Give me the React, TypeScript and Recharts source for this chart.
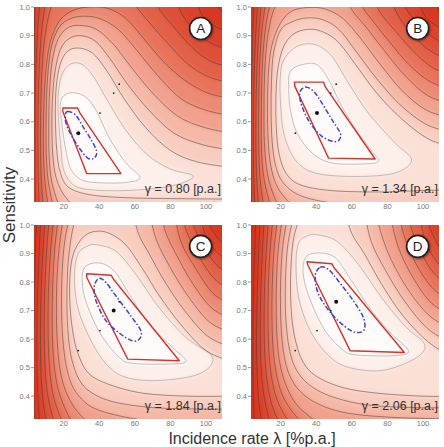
import React from 'react'
import { ScatterChart, Scatter, XAxis, YAxis, CartesianGrid } from 'recharts'

type Pt = [number, number]
type XY = { x: number; y: number }

const xTicks = [20, 40, 60, 80, 100]
const yTicks = [0.4, 0.5, 0.6, 0.7, 0.8, 0.9, 1.0]
const panelLetters = ['A', 'B', 'C', 'D']
const gammaLabels = ['γ = 0.80 [p.a.]', 'γ = 1.34 [p.a.]', 'γ = 1.84 [p.a.]', 'γ = 2.06 [p.a.]']

// maximum-likelihood estimate (λ, sensitivity) of each panel
const optima: Pt[] = [[28.2, 0.56], [40.4, 0.63], [48.1, 0.7], [51.2, 0.731]]

const hullA: Pt[] = [[19.5, 0.648], [27.8, 0.648], [29, 0.632], [52.2, 0.419], [32.9, 0.419], [19.5, 0.636]]
const hullB: Pt[] = [[27.7, 0.738], [44.1, 0.738], [45, 0.722], [73.1, 0.47], [46.9, 0.473], [27.9, 0.724]]
const hullC: Pt[] = [[32.9, 0.829], [46.6, 0.824], [48, 0.81], [85, 0.524], [56, 0.53], [32.9, 0.817]]
const hullD: Pt[] = [[34.8, 0.871], [48.8, 0.864], [50, 0.85], [89.5, 0.553], [59.1, 0.559], [35.3, 0.859]]

const ellipseA: Pt[] = [[22.2, 0.636], [26.6, 0.624], [30.7, 0.584], [35.4, 0.537], [38.5, 0.497], [37.2, 0.473], [33.5, 0.473], [28.8, 0.508], [24.1, 0.555], [21.3, 0.595], [20.9, 0.624]]
const ellipseB: Pt[] = [[33.8, 0.721], [38.5, 0.706], [43.2, 0.665], [48.8, 0.607], [53.5, 0.56], [52.9, 0.537], [49.7, 0.531], [43.2, 0.549], [36.6, 0.595], [32, 0.653], [30.7, 0.7]]
const ellipseC: Pt[] = [[40, 0.813], [43.8, 0.798], [49.4, 0.751], [57.8, 0.681], [63.4, 0.629], [62.5, 0.6], [58.8, 0.594], [52.2, 0.617], [43.8, 0.664], [38.2, 0.734], [37.2, 0.786]]
const ellipseD: Pt[] = [[42.2, 0.852], [46.9, 0.844], [52.5, 0.803], [60.9, 0.734], [66.5, 0.676], [67.1, 0.635], [63.7, 0.623], [58.1, 0.635], [48.8, 0.687], [41.3, 0.757], [39.4, 0.821]]

// likelihood contours, innermost first; each contour is a list of smooth pieces
// joined by straight runs that lie outside the plotting window
const contoursA: Pt[][][] = [
  [[[18.3, 0.67], [23, 0.7], [31.5, 0.69], [38, 0.642], [45.7, 0.543], [55, 0.456], [63, 0.405], [55, 0.388], [40, 0.387], [30, 0.397], [24, 0.435], [21.2, 0.5], [19, 0.59]]],
  [[[16.8, 0.68], [18.3, 0.75], [21.5, 0.79], [26, 0.805], [31, 0.797], [37, 0.755], [45, 0.67], [55, 0.57], [67, 0.485], [80, 0.435], [93, 0.41], [82, 0.378], [62, 0.362], [42, 0.36], [29, 0.369], [23, 0.395], [19.6, 0.44], [18.6, 0.5], [17.3, 0.59]]],
  [[[115, 0.44], [95, 0.46], [80, 0.5], [66, 0.58], [54, 0.68], [44, 0.78], [36, 0.84], [28, 0.857], [22, 0.845], [18, 0.8], [15.8, 0.72], [15.3, 0.62], [16.1, 0.5], [18.2, 0.42], [23, 0.37], [35, 0.345], [55, 0.335], [80, 0.332], [115, 0.33]]],
  [[[115, 0.5], [98, 0.52], [82, 0.56], [68, 0.64], [56, 0.73], [46, 0.82], [38, 0.88], [30, 0.9], [23, 0.89], [18, 0.85], [15, 0.77], [13.6, 0.67], [13.4, 0.57], [13.9, 0.48], [15.5, 0.41], [19, 0.355], [24, 0.315], [30, 0.27]], [[115, 0.27]]],
  [[[115, 0.56], [99, 0.58], [84, 0.62], [70, 0.7], [58, 0.79], [48, 0.87], [39, 0.92], [31, 0.935], [23, 0.93], [17, 0.89], [13.5, 0.81], [12, 0.7], [11.6, 0.58], [11.8, 0.48], [13, 0.4], [15.5, 0.34], [19, 0.28]], [[115, 0.28]]],
  [[[115, 0.62], [100, 0.64], [86, 0.68], [73, 0.76], [61, 0.85], [51, 0.92], [41, 0.958], [32, 0.968], [24, 0.96], [17.5, 0.93], [13, 0.86], [11, 0.76], [10.2, 0.64], [10.1, 0.52], [10.8, 0.42], [12.5, 0.35], [15, 0.28]], [[115, 0.28]]],
  [[[115, 0.68], [101, 0.7], [88, 0.745], [76, 0.81], [65, 0.89], [55, 0.96], [45, 0.995], [35, 1.0], [26, 0.99], [18, 0.955], [12.5, 0.88], [10, 0.78], [8.9, 0.66], [8.6, 0.54], [8.9, 0.44], [10, 0.36], [12, 0.28]], [[115, 0.28]]],
  [[[115, 0.735], [102, 0.755], [90, 0.8], [79, 0.87], [69, 0.94], [61, 1.0], [57, 1.05]], [[18, 1.05], [13, 1.0], [9.5, 0.9], [7.8, 0.78], [7.1, 0.64], [7, 0.5], [7.4, 0.4], [8.3, 0.32], [9.5, 0.26]], [[115, 0.26]]],
  [[[115, 0.79], [103, 0.81], [92, 0.86], [82, 0.93], [74, 0.99], [70, 1.05]], [[11, 1.05], [8, 0.94], [6.3, 0.8], [5.6, 0.65], [5.5, 0.5], [5.8, 0.38], [6.6, 0.26]], [[115, 0.26]]],
  [[[115, 0.85], [104, 0.87], [95, 0.91], [87, 0.97], [82, 1.05]], [[7, 1.05], [5, 0.88], [4.1, 0.7], [3.9, 0.5], [4.1, 0.35], [4.5, 0.26]], [[115, 0.26]]],
  [[[115, 0.91], [106, 0.93], [98, 0.97], [93, 1.05]], [[3.8, 1.05], [3.2, 0.7], [3.0, 0.26]], [[115, 0.26]]],
  [[[115, 0.975], [108, 0.99], [104, 1.05]], [[2.5, 1.05], [2.5, 0.26]], [[115, 0.26]]],
]

const contoursB: Pt[][][] = [
  [[[25.4, 0.776], [32, 0.799], [40.4, 0.799], [46.9, 0.747], [54.4, 0.653], [63.7, 0.56], [72.1, 0.491], [75, 0.462], [67.5, 0.453], [48.8, 0.456], [37.6, 0.491], [29.2, 0.56], [25.4, 0.642], [24.5, 0.723]]],
  [[[21.7, 0.816], [29.2, 0.863], [39.4, 0.869], [48.8, 0.828], [58.1, 0.735], [69.3, 0.63], [84.3, 0.526], [93.6, 0.467], [84.3, 0.421], [61.9, 0.409], [39.4, 0.421], [28.2, 0.467], [21.7, 0.56], [19.8, 0.677], [19.8, 0.758]]],
  [[[117.9, 0.51], [103, 0.54], [88, 0.61], [74, 0.7], [62, 0.8], [52, 0.88], [43, 0.915], [35, 0.922], [27, 0.905], [21.5, 0.86], [18.3, 0.78], [17.3, 0.68], [17.5, 0.58], [19, 0.49], [23, 0.42], [31, 0.38], [48, 0.36], [75, 0.355], [100, 0.36], [117.9, 0.362]]],
  [[[117.9, 0.56], [102, 0.59], [87, 0.66], [74, 0.75], [63, 0.84], [53, 0.92], [44, 0.955], [35, 0.962], [27, 0.95], [20, 0.92], [16, 0.84], [14.8, 0.74], [14.6, 0.63], [15.2, 0.53], [17, 0.45], [21, 0.39], [30, 0.345], [45, 0.32], [65, 0.305]], [[117.9, 0.3]]],
  [[[117.9, 0.61], [102, 0.64], [88, 0.71], [76, 0.8], [65, 0.89], [55, 0.96], [45, 0.993], [35, 0.998], [26, 0.985], [19.5, 0.94], [14.8, 0.86], [13, 0.76], [12.6, 0.65], [12.9, 0.54], [14.3, 0.45], [17.5, 0.38], [23, 0.33], [30, 0.29]], [[117.9, 0.29]]],
  [[[117.9, 0.66], [103, 0.69], [90, 0.76], [78, 0.85], [68, 0.93], [60, 0.99], [56, 1.05]], [[21, 1.05], [15.5, 0.98], [12.3, 0.88], [10.9, 0.76], [10.6, 0.64], [10.8, 0.53], [12, 0.44], [14.5, 0.37], [19, 0.3], [22, 0.26]], [[117.9, 0.26]]],
  [[[117.9, 0.71], [104, 0.74], [92, 0.8], [81, 0.88], [72, 0.95], [66, 1.0], [63, 1.05]], [[16, 1.05], [12.3, 0.96], [10.2, 0.85], [9.3, 0.72], [9.1, 0.6], [9.3, 0.49], [10.4, 0.41], [12.4, 0.35], [15.5, 0.28], [17, 0.26]], [[117.9, 0.26]]],
  [[[117.9, 0.76], [105, 0.79], [94, 0.85], [84, 0.92], [76, 0.98], [71, 1.05]], [[12.5, 1.05], [9.8, 0.94], [8.3, 0.82], [7.7, 0.68], [7.6, 0.55], [8, 0.44], [9.1, 0.36], [11.3, 0.28], [12.3, 0.26]], [[117.9, 0.26]]],
  [[[117.9, 0.81], [106, 0.84], [96, 0.89], [87, 0.96], [80, 1.05]], [[9.8, 1.05], [7.8, 0.92], [6.6, 0.78], [6.1, 0.64], [6.1, 0.5], [6.6, 0.39], [7.8, 0.3], [8.5, 0.26]], [[117.9, 0.26]]],
  [[[117.9, 0.86], [108, 0.885], [99, 0.93], [91, 0.99], [87, 1.05]], [[7.5, 1.05], [5.9, 0.9], [5, 0.75], [4.7, 0.6], [4.7, 0.45], [5.2, 0.34], [5.9, 0.26]], [[117.9, 0.26]]],
  [[[117.9, 0.91], [109, 0.93], [101, 0.97], [96, 1.05]], [[5.2, 1.05], [4, 0.85], [3.4, 0.65], [3.3, 0.45], [3.7, 0.26]], [[117.9, 0.26]]],
  [[[117.9, 0.96], [110, 0.98], [105, 1.05]], [[3.2, 1.05], [2.5, 0.7], [2.4, 0.26]], [[117.9, 0.26]]],
]

const contoursC: Pt[][][] = [
  [[[31.6, 0.85], [40, 0.867], [48.5, 0.838], [56.9, 0.757], [68.1, 0.652], [81.2, 0.571], [88.7, 0.524], [81.2, 0.513], [58.8, 0.515], [51.3, 0.536], [41.9, 0.606], [34.4, 0.699], [30.7, 0.78]]],
  [[[26, 0.815], [27.9, 0.897], [33, 0.925], [38.2, 0.931], [49.4, 0.908], [60.6, 0.827], [73.7, 0.71], [88.7, 0.606], [103.7, 0.536], [96.2, 0.478], [73.7, 0.455], [55, 0.466], [43.8, 0.513], [34.4, 0.606], [27.9, 0.71]]],
  [[[115, 0.52], [100, 0.56], [86, 0.65], [74, 0.75], [64, 0.85], [55, 0.93], [46, 0.97], [38, 0.978], [31, 0.958], [25.5, 0.9], [23.5, 0.82], [23.5, 0.72], [25, 0.63], [28, 0.55], [34, 0.48], [46, 0.44], [65, 0.41], [90, 0.4], [115, 0.4]]],
  [[[115, 0.57], [101, 0.61], [88, 0.7], [77, 0.8], [68, 0.9], [62, 0.97], [59, 1.05]], [[27.5, 1.05], [24, 0.95], [22.2, 0.84], [21.8, 0.72], [22.6, 0.61], [24.5, 0.53], [28.5, 0.46], [35, 0.415], [48, 0.38], [70, 0.36], [95, 0.355], [115, 0.355]]],
  [[[115, 0.62], [102, 0.66], [90, 0.75], [80, 0.85], [72, 0.95], [68, 1.05]], [[24, 1.05], [20.5, 0.94], [19, 0.82], [18.8, 0.7], [19.5, 0.6], [21.3, 0.51], [24.5, 0.44], [30, 0.39], [38, 0.355], [52, 0.33], [70, 0.31]], [[115, 0.31]]],
  [[[115, 0.67], [103, 0.71], [92, 0.8], [83, 0.9], [77, 0.98], [75, 1.05]], [[20.5, 1.05], [17.6, 0.93], [16.2, 0.81], [15.9, 0.69], [16.5, 0.58], [18, 0.49], [21, 0.42], [26, 0.36], [33, 0.31], [38, 0.28]], [[115, 0.28]]],
  [[[115, 0.72], [104, 0.76], [94, 0.85], [86, 0.94], [82, 1.05]], [[17.5, 1.05], [15, 0.92], [13.8, 0.79], [13.5, 0.67], [14, 0.56], [15.4, 0.47], [18, 0.4], [22, 0.34], [27, 0.28]], [[115, 0.28]]],
  [[[115, 0.77], [105, 0.81], [96, 0.89], [89, 0.98], [86, 1.05]], [[14.8, 1.05], [12.6, 0.91], [11.5, 0.78], [11.2, 0.65], [11.6, 0.54], [12.8, 0.45], [15, 0.38], [18.5, 0.32], [21, 0.27]], [[115, 0.27]]],
  [[[115, 0.82], [106, 0.86], [98, 0.93], [93, 1.0], [91, 1.05]], [[12.2, 1.05], [10.3, 0.9], [9.3, 0.76], [9, 0.63], [9.4, 0.52], [10.4, 0.43], [12.4, 0.36], [15.5, 0.29], [16.5, 0.26]], [[115, 0.26]]],
  [[[115, 0.87], [107, 0.9], [100, 0.96], [96, 1.05]], [[9.8, 1.05], [8.1, 0.88], [7.2, 0.74], [6.9, 0.6], [7.2, 0.49], [8.1, 0.4], [9.8, 0.32], [11.5, 0.26]], [[115, 0.26]]],
  [[[115, 0.92], [108, 0.945], [102, 1.0], [100, 1.05]], [[7.3, 1.05], [5.9, 0.86], [5.1, 0.7], [4.9, 0.56], [5.2, 0.44], [6, 0.35], [7, 0.26]], [[115, 0.26]]],
  [[[115, 0.97], [110, 0.99], [106, 1.05]], [[4.8, 1.05], [3.6, 0.8], [3.1, 0.6], [3.2, 0.4], [3.7, 0.26]], [[115, 0.26]]],
]

const contoursD: Pt[][][] = [
  [[[33.8, 0.885], [41.3, 0.902], [50.7, 0.885], [60, 0.803], [71.2, 0.699], [82.4, 0.618], [91.8, 0.559], [84.3, 0.542], [61.9, 0.545], [54.4, 0.565], [45, 0.629], [37.6, 0.722], [32.9, 0.815]]],
  [[[30.1, 0.937], [35, 0.962], [40.4, 0.966], [51.6, 0.943], [63.7, 0.862], [76.8, 0.745], [90, 0.645], [101, 0.58], [95, 0.53], [76.8, 0.49], [58.1, 0.501], [46.9, 0.542], [36.6, 0.629], [30.1, 0.745], [28.6, 0.862]]],
  [[[117.9, 0.53], [103, 0.59], [89, 0.68], [77, 0.79], [67, 0.9], [60, 0.97], [56, 1.05]], [[32, 1.05], [27.5, 0.96], [25.8, 0.86], [25.5, 0.76], [26.3, 0.67], [28.5, 0.59], [32.5, 0.52], [40, 0.47], [55, 0.43], [75, 0.41], [100, 0.4], [117.9, 0.4]]],
  [[[117.9, 0.58], [103, 0.635], [90, 0.73], [79, 0.84], [71, 0.94], [67, 1.05]], [[28, 1.05], [24.2, 0.94], [22.8, 0.83], [22.6, 0.72], [23.4, 0.63], [25.4, 0.55], [29, 0.49], [36, 0.44], [48, 0.4], [68, 0.37], [95, 0.36], [117.9, 0.36]]],
  [[[117.9, 0.63], [104, 0.68], [92, 0.77], [82, 0.88], [76, 0.98], [74, 1.05]], [[24.5, 1.05], [21.2, 0.93], [20, 0.81], [19.9, 0.7], [20.7, 0.6], [22.6, 0.52], [26, 0.46], [32, 0.41], [42, 0.37], [58, 0.34], [85, 0.325], [117.9, 0.32]]],
  [[[117.9, 0.68], [105, 0.725], [94, 0.82], [86, 0.925], [81, 1.05]], [[21.5, 1.05], [18.7, 0.92], [17.6, 0.8], [17.5, 0.68], [18.2, 0.58], [20, 0.5], [23.5, 0.43], [29, 0.37], [38, 0.32], [48, 0.28]], [[117.9, 0.28]]],
  [[[117.9, 0.73], [106, 0.775], [96, 0.865], [89, 0.97], [87, 1.05]], [[18.7, 1.05], [16.2, 0.91], [15.2, 0.78], [15.1, 0.66], [15.8, 0.56], [17.5, 0.48], [20.5, 0.41], [26, 0.35], [33, 0.3], [38, 0.27]], [[117.9, 0.27]]],
  [[[117.9, 0.78], [107, 0.825], [98, 0.915], [93, 1.0], [92, 1.05]], [[16, 1.05], [13.9, 0.9], [13, 0.77], [12.9, 0.64], [13.5, 0.54], [15, 0.46], [17.8, 0.39], [22.5, 0.33], [29, 0.27]], [[117.9, 0.27]]],
  [[[117.9, 0.83], [108, 0.87], [101, 0.95], [98, 1.05]], [[13.5, 1.05], [11.7, 0.89], [10.8, 0.75], [10.7, 0.62], [11.3, 0.52], [12.6, 0.44], [15, 0.37], [19, 0.31], [22, 0.27]], [[117.9, 0.27]]],
  [[[117.9, 0.875], [110, 0.915], [104, 0.99], [103, 1.05]], [[11, 1.05], [9.5, 0.88], [8.7, 0.73], [8.5, 0.6], [9, 0.5], [10.1, 0.42], [12.2, 0.35], [15.5, 0.28]], [[117.9, 0.28]]],
  [[[117.9, 0.925], [111, 0.96], [108, 1.05]], [[8.6, 1.05], [7.3, 0.86], [6.6, 0.71], [6.4, 0.58], [6.8, 0.47], [7.7, 0.38], [9.3, 0.31], [11, 0.26]], [[117.9, 0.26]]],
  [[[117.9, 0.98], [112, 1.05]], [[6.2, 1.05], [5.1, 0.85], [4.5, 0.68], [4.3, 0.52], [4.6, 0.4], [5.3, 0.3], [6, 0.26]], [[117.9, 0.26]]],
]

const hulls = [hullA, hullB, hullC, hullD]
const ellipses = [ellipseA, ellipseB, ellipseC, ellipseD]
const contours = [contoursA, contoursB, contoursC, contoursD]

// band colours from the innermost contour outwards
const bandFill = ['#fffbfa', '#fdf0eb', '#fbe0d7', '#f8cdc0', '#f5b8a7', '#f1a18d', '#ec8a73', '#e7735a', '#e26046', '#de4f37', '#da422b', '#d73822']
const plotFill = '#d52f1c'
const CLOSED = 2
const font = "'Liberation Sans', Arial, sans-serif"

const toXY = (pts: Pt[]) => pts.map(([x, y]) => ({ x, y }))

function spline(pts: XY[], closed: boolean): string {
  const n = pts.length
  if (n < 2) return ''
  const at = (i: number) => (closed ? pts[(i + n) % n] : pts[Math.max(0, Math.min(n - 1, i))])
  let d = ''
  const last = closed ? n : n - 1
  for (let i = 0; i < last; i++) {
    const p0 = at(i - 1), p1 = at(i), p2 = at(i + 1), p3 = at(i + 2)
    const c1x = p1.x + (p2.x - p0.x) / 6, c1y = p1.y + (p2.y - p0.y) / 6
    const c2x = p2.x - (p3.x - p1.x) / 6, c2y = p2.y - (p3.y - p1.y) / 6
    d += ` C${c1x},${c1y} ${c2x},${c2y} ${p2.x},${p2.y}`
  }
  return d
}

function flatten(rings: Pt[][][]) {
  const out: { x: number; y: number; r: number; s: number }[] = []
  rings.forEach((segs, r) => segs.forEach((seg, s) => seg.forEach(([x, y]) => out.push({ x, y, r, s }))))
  return out
}

function ringPaths(points: XY[], meta: { r: number; s: number }[]) {
  const rings: { pts: XY[]; seg: number[] }[] = []
  points.forEach((p, i) => {
    const m = meta[i]
    if (!rings[m.r]) rings[m.r] = { pts: [], seg: [] }
    rings[m.r].pts.push(p)
    rings[m.r].seg.push(m.s)
  })
  return rings.map(({ pts, seg }, r) => {
    if (r < CLOSED) return `M${pts[0].x},${pts[0].y}${spline(pts, true)}Z`
    let d = ''
    let start = 0
    for (let i = 1; i <= pts.length; i++) {
      if (i === pts.length || seg[i] !== seg[i - 1]) {
        const g = pts.slice(start, i)
        d += `${start === 0 ? 'M' : 'L'}${g[0].x},${g[0].y}${spline(g, false)}`
        start = i
      }
    }
    return d + 'Z'
  })
}

const noDot = () => <g />

function Panel({ idx, left, top, height }: { idx: number; left: number; top: number; height: number }) {
  const rings = contours[idx]
  const data = flatten(rings)
  const best = [{ x: optima[idx][0], y: optima[idx][1] }]
  const others = optima.filter((_, j) => j !== idx).map(([x, y]) => ({ x, y }))

  return (
    <div style={{ position: 'absolute', left, top }}>
      <ScatterChart width={227} height={height} margin={{ top: 7, right: 5, bottom: 0, left: 0 }}>
        <CartesianGrid horizontal={false} vertical={false} fill={plotFill} stroke="none" />
        <XAxis
          type="number"
          dataKey="x"
          domain={[3.3, 109]}
          allowDataOverflow
          ticks={xTicks}
          tickSize={0}
          tickMargin={2}
          axisLine={false}
          tickLine={false}
          height={13}
          tick={{ fontSize: 7.5, fill: '#777', fontFamily: font }}
        />
        <YAxis
          type="number"
          dataKey="y"
          domain={[0.32, 1]}
          allowDataOverflow
          ticks={yTicks}
          tickFormatter={(v: number) => v.toFixed(1)}
          width={34}
          tickSize={3}
          tickMargin={1}
          axisLine={false}
          tickLine={{ stroke: '#999' }}
          tick={{ fontSize: 7.5, fill: '#777', fontFamily: font }}
        />
        {/* filled bands, blurred so they read as a continuous surface */}
        <Scatter
          data={data}
          isAnimationActive={false}
          shape={noDot}
          line={(p: any) => {
            const paths = ringPaths(p.points, data)
            return (
              <g filter="url(#soften)">
                {paths.map((d, r) => ({ d, r })).reverse().map(({ d, r }) => (
                  <path key={r} d={d} fill={bandFill[r]} stroke="none" />
                ))}
              </g>
            )
          }}
        />
        {/* contour lines */}
        <Scatter
          data={data}
          isAnimationActive={false}
          shape={noDot}
          line={(p: any) => (
            <g>
              {ringPaths(p.points, data).map((d, r) => (
                <path key={r} d={d} fill="none" stroke={r < CLOSED ? '#8a8a8a' : '#4a3833'} strokeWidth={0.6} strokeOpacity={0.85} />
              ))}
            </g>
          )}
        />
        {/* confidence hull */}
        <Scatter
          data={toXY(hulls[idx])}
          isAnimationActive={false}
          shape={noDot}
          line={(p: any) => (
            <path
              d={p.points.map((q: XY, i: number) => `${i ? 'L' : 'M'}${q.x},${q.y}`).join('') + 'Z'}
              fill="none"
              stroke="#d8322a"
              strokeWidth={1.4}
              strokeLinejoin="round"
            />
          )}
        />
        {/* asymptotic confidence ellipse */}
        <Scatter
          data={toXY(ellipses[idx])}
          isAnimationActive={false}
          shape={noDot}
          line={(p: any) => (
            <path
              d={`M${p.points[0].x},${p.points[0].y}${spline(p.points, true)}Z`}
              fill="none"
              stroke="#3f43c9"
              strokeWidth={1.5}
              strokeDasharray="5 2 1.5 2"
            />
          )}
        />
        <Scatter data={others} isAnimationActive={false} shape={(s: any) => <circle cx={s.cx} cy={s.cy} r={0.9} fill="#222" />} />
        <Scatter data={best} isAnimationActive={false} shape={(s: any) => <circle cx={s.cx} cy={s.cy} r={2} fill="#111" />} />
        <Scatter
          data={[{ x: 97, y: 0.925 }]}
          isAnimationActive={false}
          shape={(s: any) => (
            <g>
              <circle cx={s.cx} cy={s.cy} r={11} fill="#fff" stroke="#222" strokeWidth={1.6} filter="url(#badgeShadow)" />
              <text x={s.cx} y={s.cy + 4.8} textAnchor="middle" fontSize={13.5} fontFamily={font} fill="#222">
                {panelLetters[idx]}
              </text>
            </g>
          )}
        />
        <Scatter
          data={[{ x: 108.4, y: 0.353 }]}
          isAnimationActive={false}
          shape={(s: any) => (
            <text x={s.cx} y={s.cy} textAnchor="end" fontSize={12.5} fontFamily={font} fill="#333">
              {gammaLabels[idx]}
            </text>
          )}
        />
      </ScatterChart>
    </div>
  )
}

export default function App() {
  return (
    <div style={{ position: 'absolute', left: 0, top: 0, width: 444, height: 447, background: '#fff', fontFamily: font }}>
      <svg width={0} height={0} style={{ position: 'absolute' }}>
        <defs>
          <filter id="soften" x="-10%" y="-10%" width="120%" height="120%">
            <feGaussianBlur stdDeviation="2.5" />
          </filter>
          <filter id="badgeShadow" x="-50%" y="-50%" width="200%" height="200%">
            <feDropShadow dx="0.8" dy="1" stdDeviation="1" floodColor="#000" floodOpacity="0.45" />
          </filter>
        </defs>
      </svg>
      <Panel idx={0} left={0} top={0} height={215} />
      <Panel idx={1} left={217} top={0} height={215} />
      <Panel idx={2} left={0} top={218} height={214} />
      <Panel idx={3} left={217} top={218} height={214} />
      <svg width={444} height={447} style={{ position: 'absolute', left: 0, top: 0, pointerEvents: 'none' }}>
        <text x={14.5} y={205} transform="rotate(-90 14.5 205)" textAnchor="middle" fontSize={17} fontFamily={font} fill="#333">
          Sensitivity
        </text>
        <text x={252} y={443.5} textAnchor="middle" fontSize={16} fontFamily={font} fill="#333">
          Incidence rate λ [%p.a.]
        </text>
      </svg>
    </div>
  )
}
